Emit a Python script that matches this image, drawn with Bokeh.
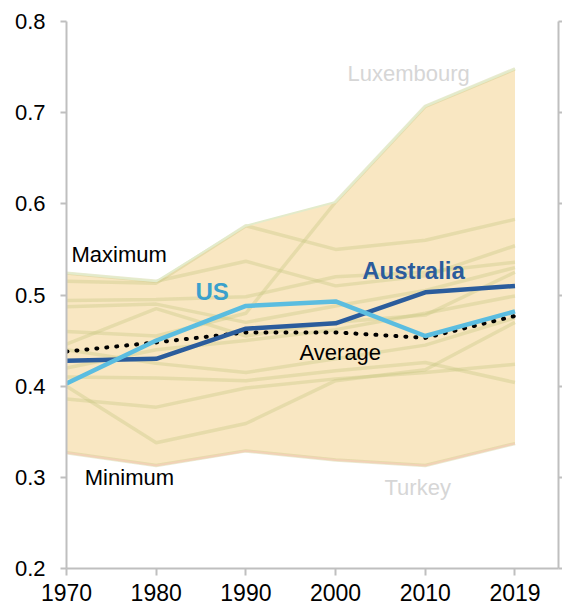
from bokeh.plotting import figure
from bokeh.models import Range1d, LinearAxis, FixedTicker
from bokeh.embed import file_html
from bokeh.resources import INLINE
from bokeh.core.properties import value

# ---- data ----
years = ["1970", "1980", "1990", "2000", "2010", "2019"]
y_ticks = [0.2, 0.3, 0.4, 0.5, 0.6, 0.7, 0.8]
y_tick_labels = ["0.2", "0.3", "0.4", "0.5", "0.6", "0.7", "0.8"]

australia = [0.428, 0.430, 0.463, 0.469, 0.503, 0.510]
us = [0.403, 0.450, 0.488, 0.493, 0.455, 0.482]
average = [0.438, 0.448, 0.459, 0.459, 0.453, 0.477]
maximum = [0.524, 0.515, 0.576, 0.602, 0.707, 0.748]
minimum = [0.327, 0.313, 0.329, 0.319, 0.313, 0.337]

luxembourg = [0.460, 0.455, 0.480, 0.602, 0.707, 0.748]
turkey = [0.327, 0.313, 0.329, 0.319, 0.313, 0.337]
country_a = [0.515, 0.513, 0.576, 0.550, 0.560, 0.583]
country_b = [0.524, 0.515, 0.537, 0.510, 0.521, 0.554]
country_c = [0.494, 0.495, 0.498, 0.520, 0.525, 0.536]
country_d = [0.487, 0.490, 0.470, 0.488, 0.505, 0.530]
country_e = [0.446, 0.485, 0.455, 0.470, 0.478, 0.525]
country_f = [0.420, 0.440, 0.450, 0.462, 0.480, 0.499]
country_g = [0.410, 0.409, 0.406, 0.417, 0.426, 0.404]
country_h = [0.386, 0.377, 0.398, 0.408, 0.415, 0.424]
country_i = [0.400, 0.338, 0.359, 0.406, 0.418, 0.470]
country_j = [0.440, 0.425, 0.415, 0.430, 0.445, 0.475]
others = [luxembourg, country_a, country_b, country_c, country_d, country_e,
          country_f, country_g, country_h, country_i, country_j, turkey]

xs = list(range(len(years)))

FONT = "Liberation Sans"
AXIS_COLOR = "#bfbfbf"

p = figure(width=562, height=610, output_backend="svg", toolbar_location=None,
           x_range=Range1d(0, 5.485), y_range=Range1d(0.2, 0.8),
           min_border_left=66, min_border_top=21, min_border_right=4, min_border_bottom=42)
p.outline_line_color = None
p.xgrid.visible = False
p.ygrid.visible = False
p.background_fill_color = "white"

# band min-max
p.varea(x=xs, y1=minimum, y2=maximum, fill_color="#f9e7c2")

# other countries, faint
for c in others:
    p.line(xs, c, line_color="#c4c67e", line_alpha=0.35, line_width=3.5)

p.line(xs, maximum, line_color="#e3ebcb", line_width=2)
p.line(xs, minimum, line_color="#f1d2b6", line_width=2)

p.line(xs, average, line_color="black", line_width=4, line_dash="1 9", line_cap="round")
p.line(xs, australia, line_color="#2b5c9c", line_width=4.5)
p.line(xs, us, line_color="#5bbde0", line_width=4.5)

# labels
def label(x, y, txt, color, size, bold=False):
    p.text(x=[x], y=[y], text=[txt], text_color=color, text_font=value(FONT),
           text_font_size=size, text_font_style="bold" if bold else "normal",
           text_baseline="alphabetic", text_align="left")

label(0.056, 0.5439, "Maximum", "black", "22px")
label(0.204, 0.3000, "Minimum", "black", "22px")
label(2.598, 0.4364, "Average", "black", "22px")
label(1.438, 0.5037, "US", "#3aa0cc", "24px", True)
label(3.296, 0.5268, "Australia", "#2b5c9c", "24px", True)
label(3.133, 0.7432, "Luxembourg", "#d6d6d6", "22px")
label(3.545, 0.2891, "Turkey", "#d6d6d6", "22px")

# axes
xa = p.xaxis[0]
xa.ticker = FixedTicker(ticks=xs)
xa.major_label_overrides = {i: t for i, t in enumerate(years)}
xa.major_label_text_font = FONT
xa.major_label_text_font_size = "23px"
xa.major_label_text_color = "black"
xa.axis_line_color = AXIS_COLOR
xa.axis_line_width = 2
xa.major_tick_line_color = AXIS_COLOR
xa.major_tick_line_width = 2
xa.major_tick_out = 7
xa.major_tick_in = 0
xa.minor_tick_line_color = None
xa.major_label_standoff = 8

ya = p.yaxis[0]
ya.ticker = FixedTicker(ticks=y_ticks)
ya.major_label_overrides = {t: l for t, l in zip(y_ticks, y_tick_labels)}
ya.major_label_text_font = FONT
ya.major_label_text_font_size = "22px"
ya.major_label_text_color = "black"
ya.axis_line_color = AXIS_COLOR
ya.axis_line_width = 2
ya.major_tick_line_color = AXIS_COLOR
ya.major_tick_line_width = 2
ya.major_tick_out = 6
ya.major_tick_in = 0
ya.minor_tick_line_color = None
ya.major_label_standoff = 15

ra = LinearAxis(ticker=FixedTicker(ticks=y_ticks))
ra.major_label_overrides = {t: "" for t in y_ticks}
ra.major_label_standoff = 0
ra.axis_line_color = AXIS_COLOR
ra.axis_line_width = 2
ra.major_tick_line_color = AXIS_COLOR
ra.major_tick_line_width = 2
ra.major_tick_out = 4
ra.major_tick_in = 0
ra.minor_tick_line_color = None
p.add_layout(ra, "right")

open("out.html", "w").write(file_html(p, INLINE))
